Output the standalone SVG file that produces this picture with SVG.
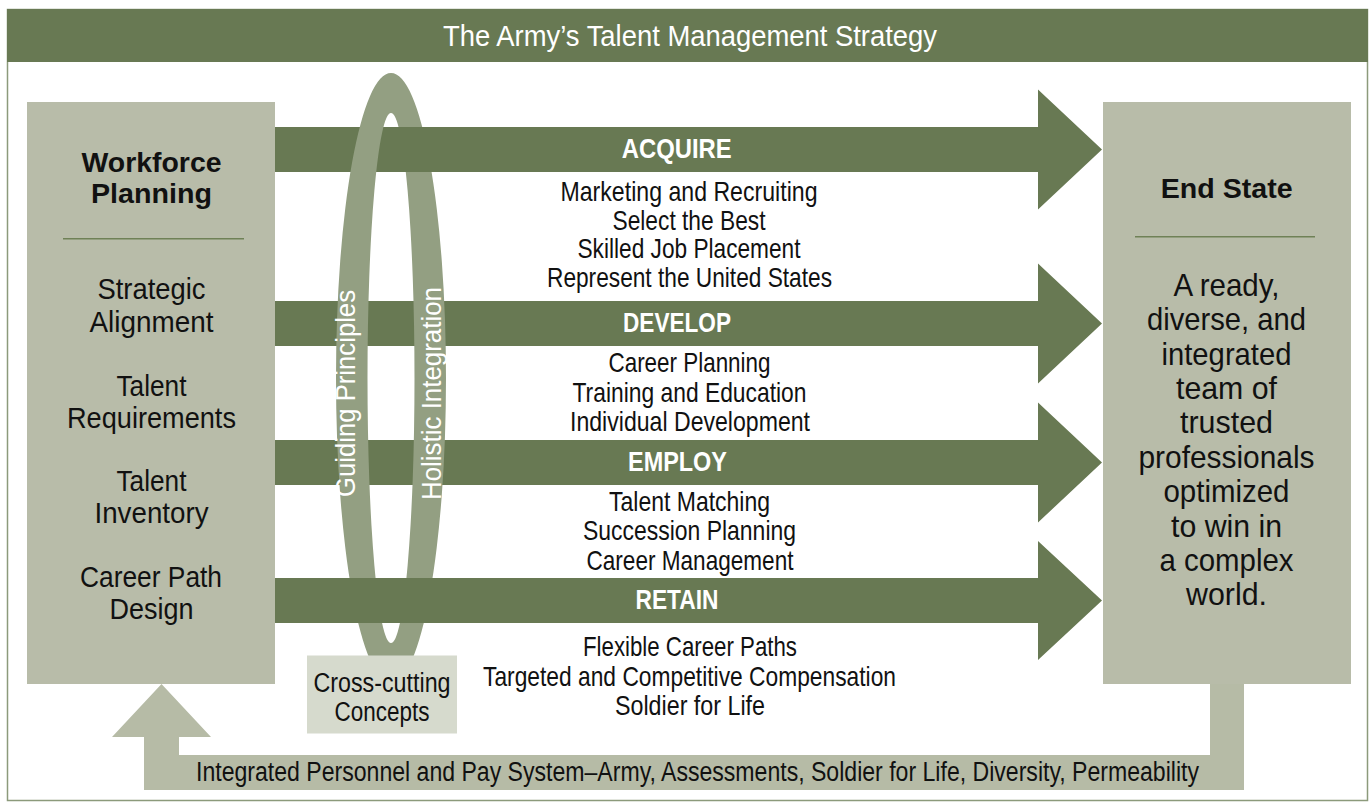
<svg xmlns="http://www.w3.org/2000/svg" width="1371" height="806" viewBox="0 0 1371 806">
<style>
.t{font-family:"Liberation Sans",Arial,sans-serif;text-anchor:middle;}
.w{fill:#ffffff;}
.k{fill:#111111;}
.b{font-weight:bold;}
.dark{fill:#687953;}
.box{fill:#b8bca9;}
.div{stroke:#6f8157;stroke-width:1.5;}
</style>
<rect x="0" y="0" width="1371" height="806" fill="#ffffff"/>
<rect x="7.5" y="9.5" width="1360" height="791" fill="none" stroke="#8c9a7b" stroke-width="1.5"/>
<g id="title">
<rect x="7" y="9" width="1361" height="53" class="dark"/>
<text class="t w" x="690" y="46" font-size="29" textLength="494" lengthAdjust="spacingAndGlyphs">The Army’s Talent Management Strategy</text>
</g>
<g id="workforce-planning">
<rect x="27" y="102" width="248" height="582" class="box"/>
<text class="t k b" x="151.5" y="171.7" font-size="28" textLength="140" lengthAdjust="spacingAndGlyphs">Workforce</text>
<text class="t k b" x="151.5" y="203.3" font-size="28" textLength="121" lengthAdjust="spacingAndGlyphs">Planning</text>
<line x1="63" y1="238.7" x2="244" y2="238.7" class="div"/>
<text class="t k" x="151.5" y="299.3" font-size="30" textLength="108" lengthAdjust="spacingAndGlyphs">Strategic</text>
<text class="t k" x="151.5" y="331.7" font-size="30" textLength="124" lengthAdjust="spacingAndGlyphs">Alignment</text>
<text class="t k" x="151.5" y="396" font-size="30" textLength="70" lengthAdjust="spacingAndGlyphs">Talent</text>
<text class="t k" x="151.5" y="428.3" font-size="30" textLength="169" lengthAdjust="spacingAndGlyphs">Requirements</text>
<text class="t k" x="151.5" y="491" font-size="30" textLength="70" lengthAdjust="spacingAndGlyphs">Talent</text>
<text class="t k" x="151.5" y="523.3" font-size="30" textLength="114" lengthAdjust="spacingAndGlyphs">Inventory</text>
<text class="t k" x="151" y="587.3" font-size="30" textLength="142" lengthAdjust="spacingAndGlyphs">Career Path</text>
<text class="t k" x="151.5" y="619.3" font-size="30" textLength="84" lengthAdjust="spacingAndGlyphs">Design</text>
</g>
<g id="end-state">
<rect x="1103" y="102" width="248" height="582" class="box"/>
<text class="t k b" x="1226.7" y="197.7" font-size="27" textLength="132" lengthAdjust="spacingAndGlyphs">End State</text>
<line x1="1135" y1="236.7" x2="1315" y2="236.7" class="div"/>
<text class="t k" x="1226.5" y="296" font-size="31.5" textLength="106" lengthAdjust="spacingAndGlyphs">A ready,</text>
<text class="t k" x="1226.5" y="330.4" font-size="31.5" textLength="159" lengthAdjust="spacingAndGlyphs">diverse, and</text>
<text class="t k" x="1226.5" y="364.7" font-size="31.5" textLength="130" lengthAdjust="spacingAndGlyphs">integrated</text>
<text class="t k" x="1226.5" y="399.1" font-size="31.5" textLength="101" lengthAdjust="spacingAndGlyphs">team of</text>
<text class="t k" x="1226.5" y="433.4" font-size="31.5" textLength="93" lengthAdjust="spacingAndGlyphs">trusted</text>
<text class="t k" x="1226.5" y="467.8" font-size="31.5" textLength="176" lengthAdjust="spacingAndGlyphs">professionals</text>
<text class="t k" x="1226.5" y="502.1" font-size="31.5" textLength="126" lengthAdjust="spacingAndGlyphs">optimized</text>
<text class="t k" x="1226.5" y="536.5" font-size="31.5" textLength="111" lengthAdjust="spacingAndGlyphs">to win in</text>
<text class="t k" x="1226.5" y="570.8" font-size="31.5" textLength="134" lengthAdjust="spacingAndGlyphs">a complex</text>
<text class="t k" x="1226.5" y="605.2" font-size="31.5" textLength="81" lengthAdjust="spacingAndGlyphs">world.</text>
</g>
<g id="connectors">
<path id="feedback-arrow" d="M1244,684 V790 H144 V737 H112 L161.5,684 L211,737 H179 V755 H1210 V684 Z" fill="#b6bba6"/>
<path id="acquire-arrow" class="dark" d="M275,127 H1038 V89.5 L1102,149.5 L1038,209.5 V172 H275 Z"/>
<path id="develop-arrow" class="dark" d="M275,301 H1038 V263.5 L1102,323.5 L1038,383.5 V346 H275 Z"/>
<path id="employ-arrow" class="dark" d="M275,440 H1038 V402.5 L1102,462.5 L1038,522.5 V485 H275 Z"/>
</g>
<g id="cross-cutting-ring">
<path fill="#939f82" fill-rule="evenodd" d="M336,378 A55,305 0 1 0 446,378 A55,305 0 1 0 336,378 Z M367.5,378 A23.5,265 0 1 0 414.5,378 A23.5,265 0 1 0 367.5,378 Z"/>
<rect x="391" y="127" width="70" height="45" class="dark"/>
<text class="t w" transform="translate(355,393.5) rotate(-90)" font-size="27" textLength="207" lengthAdjust="spacingAndGlyphs">Guiding Principles</text>
<text class="t w" transform="translate(441,393.5) rotate(-90)" font-size="27" textLength="213" lengthAdjust="spacingAndGlyphs">Holistic Integration</text>
</g>
<g id="retain-arrow-group">
<path id="retain-arrow" class="dark" d="M275,578 H1038 V541 L1102,600.5 L1038,660 V623 H275 Z"/>
</g>
<g id="cross-cutting-concepts">
<rect x="307" y="655.5" width="150" height="78" fill="#d6dacd"/>
<text class="t k" x="382" y="691.5" font-size="27" textLength="137" lengthAdjust="spacingAndGlyphs">Cross-cutting</text>
<text class="t k" x="382" y="721" font-size="27" textLength="95" lengthAdjust="spacingAndGlyphs">Concepts</text>
</g>
<g id="acquire">
<text class="t w b" x="676.7" y="157.5" font-size="28.5" textLength="110" lengthAdjust="spacingAndGlyphs">ACQUIRE</text>
<text class="t k" x="689" y="200.7" font-size="28" textLength="257" lengthAdjust="spacingAndGlyphs">Marketing and Recruiting</text>
<text class="t k" x="689" y="229.5" font-size="28" textLength="153" lengthAdjust="spacingAndGlyphs">Select the Best</text>
<text class="t k" x="689" y="258.3" font-size="28" textLength="223" lengthAdjust="spacingAndGlyphs">Skilled Job Placement</text>
<text class="t k" x="689.5" y="287.3" font-size="28" textLength="285" lengthAdjust="spacingAndGlyphs">Represent the United States</text>
</g>
<g id="develop">
<text class="t w b" x="677" y="332" font-size="28.5" textLength="108" lengthAdjust="spacingAndGlyphs">DEVELOP</text>
<text class="t k" x="689.5" y="371.5" font-size="28" textLength="162" lengthAdjust="spacingAndGlyphs">Career Planning</text>
<text class="t k" x="689.5" y="401.5" font-size="28" textLength="234" lengthAdjust="spacingAndGlyphs">Training and Education</text>
<text class="t k" x="690" y="430.5" font-size="28" textLength="240" lengthAdjust="spacingAndGlyphs">Individual Development</text>
</g>
<g id="employ">
<text class="t w b" x="677.5" y="471" font-size="28.5" textLength="99" lengthAdjust="spacingAndGlyphs">EMPLOY</text>
<text class="t k" x="689.5" y="510.5" font-size="28" textLength="161" lengthAdjust="spacingAndGlyphs">Talent Matching</text>
<text class="t k" x="689.5" y="539.5" font-size="28" textLength="213" lengthAdjust="spacingAndGlyphs">Succession Planning</text>
<text class="t k" x="690" y="569.5" font-size="28" textLength="207" lengthAdjust="spacingAndGlyphs">Career Management</text>
</g>
<g id="retain">
<text class="t w b" x="677" y="609" font-size="28.5" textLength="83" lengthAdjust="spacingAndGlyphs">RETAIN</text>
<text class="t k" x="690" y="656" font-size="28" textLength="214" lengthAdjust="spacingAndGlyphs">Flexible Career Paths</text>
<text class="t k" x="689.5" y="685.5" font-size="28" textLength="413" lengthAdjust="spacingAndGlyphs">Targeted and Competitive Compensation</text>
<text class="t k" x="690" y="715" font-size="28" textLength="150" lengthAdjust="spacingAndGlyphs">Soldier for Life</text>
</g>
<g id="feedback-label">
<text class="t k" x="697.5" y="781" font-size="27" textLength="1003" lengthAdjust="spacingAndGlyphs">Integrated Personnel and Pay System–Army, Assessments, Soldier for Life, Diversity, Permeability</text>
</g>
</svg>
